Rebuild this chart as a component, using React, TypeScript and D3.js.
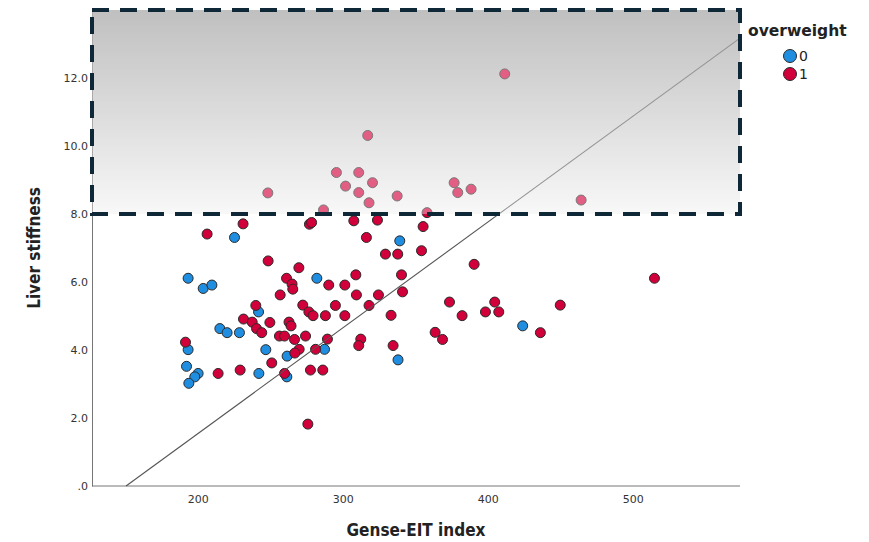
import React from "react";
import * as d3 from "d3";

// overweight = 0
const blueX = [225.3, 193.3, 203.7, 209.7, 241.9, 215.2, 220.2, 228.7, 193.3, 246.9, 192.2, 200.2, 197.9, 193.8, 242.1, 282.1, 261.6, 287.4, 261.4, 339.3, 338.1, 424.1];
const blueY = [7.31, 6.11, 5.81, 5.91, 5.12, 4.63, 4.51, 4.51, 4.01, 4.01, 3.52, 3.31, 3.21, 3.02, 3.31, 6.11, 3.82, 4.02, 3.21, 7.21, 3.71, 4.71];

// overweight = 1
const redX = [
  231.2, 206.4, 248.5, 240.0, 231.5, 237.5, 249.7, 240.5, 244.1, 191.5, 251.0, 214.0, 229.2,
  277.0, 278.5, 307.6, 269.7, 261.2, 265.0, 265.5, 290.3, 301.4, 309.0, 309.4, 256.8, 272.4,
  276.6, 279.5, 288.0, 294.9, 301.4, 262.9, 264.3, 256.3, 259.8, 266.7, 274.3, 289.4, 269.9,
  266.9, 281.2, 259.8, 277.7, 286.2, 275.9, 323.9, 355.4, 316.3, 329.4, 337.9, 354.3, 340.5,
  324.6, 341.2, 318.1, 333.3, 363.7, 312.4, 311.0, 334.7, 390.6, 373.6, 382.3, 398.4, 404.8,
  407.6, 436.3, 368.8, 450.0, 515.0,
  295.6, 311.0, 301.9, 320.5, 311.0, 318.1, 337.5, 358.1, 248.3, 286.7, 411.7, 317.2, 376.8,
  379.3, 388.5, 464.4,
];
const redY = [
  7.71, 7.41, 6.62, 5.31, 4.91, 4.82, 4.81, 4.63, 4.51, 4.23, 3.62, 3.31, 3.41,
  7.70, 7.75, 7.8, 6.42, 6.11, 5.94, 5.79, 5.91, 5.91, 6.21, 5.62, 5.62, 5.32,
  5.12, 5.01, 5.01, 5.31, 5.01, 4.82, 4.71, 4.41, 4.41, 4.31, 4.41, 4.32, 4.02,
  3.91, 4.02, 3.31, 3.41, 3.41, 1.82, 7.82, 7.63, 7.31, 6.82, 6.82, 6.92, 6.21,
  5.62, 5.71, 5.31, 5.02, 4.52, 4.32, 4.13, 4.13, 6.52, 5.41, 5.01, 5.12, 5.41,
  5.12, 4.51, 4.31, 5.32, 6.11,
  9.22, 9.22, 8.82, 8.92, 8.63, 8.33, 8.53, 8.04, 8.62, 8.12, 12.12, 10.31, 8.92,
  8.63, 8.73, 8.41,
];

const xTicks = [200, 300, 400, 500];
const yTicks = [0, 2, 4, 6, 8, 10, 12];
const groups = ["0", "1"];
const groupColors = ["#1f8ee0", "#d1003a"];

// fit line y = a + b*x
const fitIntercept = -4.68;
const fitSlope = 0.0311;

// highlighted band
const bandFrom = 8;

export default function App() {
  const svgRef = React.useRef<SVGSVGElement>(null);
  const width = 869;
  const height = 542;

  React.useEffect(() => {
    const svg = d3.select(svgRef.current);
    svg.selectAll("*").remove();

    const x = d3.scaleLinear().domain([127, 574]).range([92, 740]);
    const y = d3.scaleLinear().domain([0, 14]).range([486, 10]);
    const color = d3.scaleOrdinal<string>().domain(groups).range(groupColors);

    const defs = svg.append("defs");
    const grad = defs
      .append("linearGradient")
      .attr("id", "bandGrad")
      .attr("x1", 0)
      .attr("y1", 0)
      .attr("x2", 0)
      .attr("y2", 1);
    grad.append("stop").attr("offset", "0%").attr("stop-color", "#9b9b9b");
    grad.append("stop").attr("offset", "100%").attr("stop-color", "#f4f4f4");

    const [x0, x1] = x.domain();
    const [, yTop] = y.domain();
    const bx = x(x0);
    const bw = x(x1) - x(x0);
    const by = y(yTop);
    const bh = y(bandFrom) - y(yTop);

    svg
      .append("rect")
      .attr("x", bx)
      .attr("y", by)
      .attr("width", bw)
      .attr("height", bh)
      .attr("fill", "url(#bandGrad)");

    // axes
    const xAxis = d3.axisBottom(x).tickValues(xTicks).tickSize(0).tickPadding(9);
    svg
      .append("g")
      .attr("transform", `translate(0,${y(0)})`)
      .call(xAxis)
      .call((g) => g.select(".domain").attr("stroke", "#777").attr("d", `M${x(x0)},0H${x(x1)}`))
      .selectAll("text")
      .style("font-family", "'DejaVu Sans', sans-serif")
      .style("font-size", "11px")
      .style("fill", "#333");

    const yAxis = d3
      .axisLeft(y)
      .tickValues(yTicks)
      .tickSize(0)
      .tickPadding(4)
      .tickFormat((d) => (d === 0 ? ".0" : (d as number).toFixed(1)));
    svg
      .append("g")
      .attr("transform", `translate(${x(x0)},0)`)
      .call(yAxis)
      .call((g) => g.select(".domain").attr("stroke", "#777"))
      .selectAll("text")
      .style("font-family", "'DejaVu Sans', sans-serif")
      .style("font-size", "11px")
      .style("fill", "#333");

    // points
    const pts = [
      ...blueX.map((v, i) => ({ x: v, y: blueY[i], g: "0" })),
      ...redX.map((v, i) => ({ x: v, y: redY[i], g: "1" })),
    ];
    svg
      .append("g")
      .selectAll("circle")
      .data(pts)
      .join("circle")
      .attr("cx", (d) => x(d.x))
      .attr("cy", (d) => y(d.y))
      .attr("r", 5)
      .attr("fill", (d) => color(d.g))
      .attr("stroke", "#2a2a2a")
      .attr("stroke-width", 1);

    // fit line
    const lineStart = -fitIntercept / fitSlope;
    const fit = d3
      .line<number>()
      .x((d) => x(d))
      .y((d) => y(fitIntercept + fitSlope * d));
    svg
      .append("path")
      .attr("d", fit([lineStart, x1]))
      .attr("fill", "none")
      .attr("stroke", "#555")
      .attr("stroke-width", 1.1);

    // fade overlay + dashed frame
    svg
      .append("rect")
      .attr("x", bx)
      .attr("y", by)
      .attr("width", bw)
      .attr("height", bh)
      .attr("fill", "#fff")
      .attr("opacity", 0.37);
    svg
      .append("rect")
      .attr("x", bx)
      .attr("y", by)
      .attr("width", bw)
      .attr("height", bh)
      .attr("fill", "none")
      .attr("stroke", "#0e2838")
      .attr("stroke-width", 4)
      .attr("stroke-dasharray", "17 11");

    // titles
    svg
      .append("text")
      .attr("x", 416)
      .attr("y", 536)
      .attr("text-anchor", "middle")
      .style("font-family", "'DejaVu Sans Condensed', 'DejaVu Sans', sans-serif")
      .style("font-weight", "bold")
      .style("font-size", "17px")
      .style("fill", "#222")
      .text("Gense-EIT index");
    svg
      .append("text")
      .attr("transform", `translate(40,248) rotate(-90)`)
      .attr("text-anchor", "middle")
      .style("font-family", "'DejaVu Sans Condensed', 'DejaVu Sans', sans-serif")
      .style("font-weight", "bold")
      .style("font-size", "17px")
      .style("fill", "#222")
      .text("Liver stiffness");

    // legend
    const legend = svg.append("g");
    legend
      .append("text")
      .attr("x", 748)
      .attr("y", 36)
      .style("font-family", "'DejaVu Sans', sans-serif")
      .style("font-weight", "bold")
      .style("font-size", "15.5px")
      .style("fill", "#222")
      .text("overweight");
    const items = legend
      .selectAll("g.item")
      .data(groups)
      .join("g")
      .attr("class", "item")
      .attr("transform", (_, i) => `translate(790,${56 + i * 18})`);
    items
      .append("circle")
      .attr("r", 6.5)
      .attr("fill", (d) => color(d))
      .attr("stroke", "#2a2a2a")
      .attr("stroke-width", 1);
    items
      .append("text")
      .attr("x", 9)
      .attr("y", 5)
      .style("font-family", "'DejaVu Sans', sans-serif")
      .style("font-size", "14px")
      .style("fill", "#222")
      .text((d) => d);
  }, []);

  return (
    <svg
      ref={svgRef}
      width={width}
      height={height}
      style={{ position: "absolute", left: 0, top: 0, background: "#fff" }}
    />
  );
}
